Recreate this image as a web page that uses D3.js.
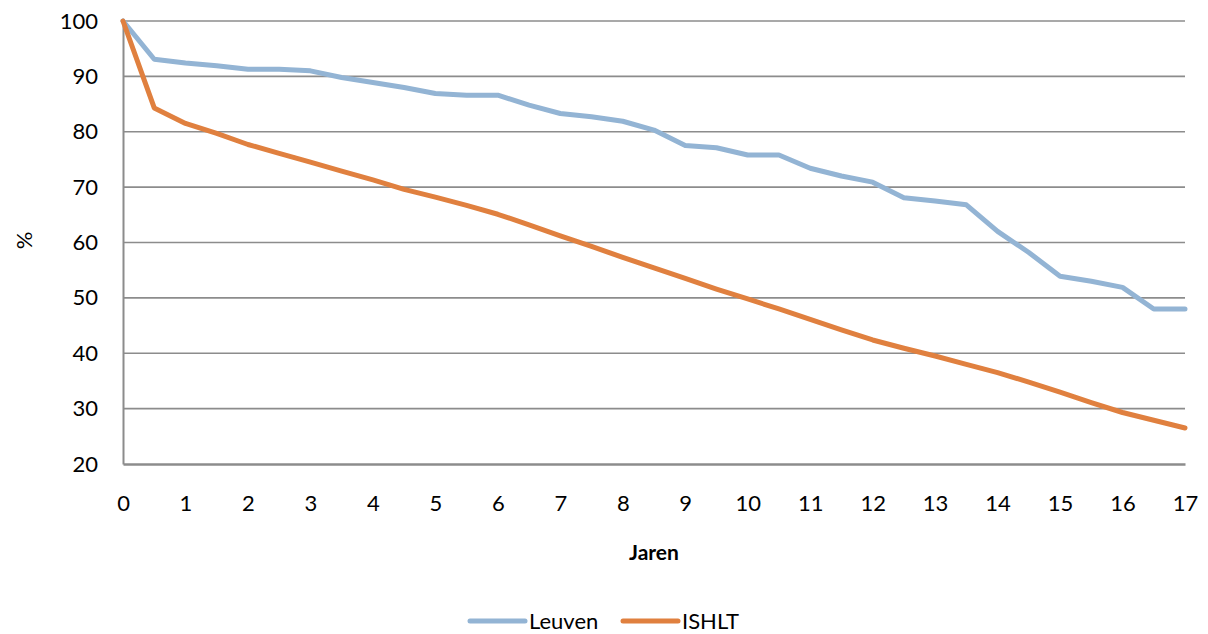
<!DOCTYPE html>
<html>
<head>
<meta charset="utf-8">
<script src="https://cdn.jsdelivr.net/npm/d3@7"></script>
<style>
  html, body { margin: 0; padding: 0; background: #fff; }
  svg text { font-family: "Lato", "Open Sans", sans-serif; fill: #000; }
</style>
</head>
<body>
<svg id="chart" width="1208" height="634"></svg>
<script>
// Survival (%) by years after transplant, half-year steps
const years = [0, 0.5, 1, 1.5, 2, 2.5, 3, 3.5, 4, 4.5, 5, 5.5, 6, 6.5, 7, 7.5, 8, 8.5,
  9, 9.5, 10, 10.5, 11, 11.5, 12, 12.5, 13, 13.5, 14, 14.5, 15, 15.5, 16, 16.5, 17];
const leuven = [100, 93.1, 92.4, 91.9, 91.3, 91.3, 91.0, 89.8, 88.9, 88.0, 86.9, 86.6, 86.6,
  84.8, 83.3, 82.7, 81.9, 80.3, 77.5, 77.1, 75.8, 75.8, 73.4, 72.0, 70.9, 68.1, 67.5, 66.8,
  62.0, 58.2, 53.9, 53.0, 51.9, 48.0, 48.0];
const ishlt = [100, 84.3, 81.5, 79.7, 77.7, 76.1, 74.5, 72.9, 71.3, 69.6, 68.2, 66.7, 65.1,
  63.2, 61.2, 59.3, 57.3, 55.4, 53.5, 51.6, 49.8, 48.0, 46.1, 44.2, 42.4, 40.9, 39.5, 38.0,
  36.5, 34.8, 33.0, 31.1, 29.3, 27.9, 26.5];
const xTicks = d3.range(0, 18);
const yTicks = [20, 30, 40, 50, 60, 70, 80, 90, 100];
const seriesNames = ["Leuven", "ISHLT"];
const seriesColors = ["#93b4d4", "#e0803f"];

const svg = d3.select("#chart");
const plotLeft = 123, plotRight = 1185, plotTop = 21, plotBottom = 464;

const x = d3.scaleLinear().domain([0, 17]).range([plotLeft, plotRight]);
const y = d3.scaleLinear().domain([20, 100]).range([plotBottom, plotTop]);

// horizontal gridlines
svg.append("g")
  .selectAll("line")
  .data(yTicks.filter(v => v > 20))
  .join("line")
  .attr("x1", plotLeft).attr("x2", plotRight)
  .attr("y1", d => y(d)).attr("y2", d => y(d))
  .attr("stroke", "#8c8c8c").attr("stroke-width", 1.6);

// y axis
const yAxis = svg.append("g")
  .attr("transform", `translate(${plotLeft},0)`)
  .call(d3.axisLeft(y).tickValues(yTicks).tickSize(0).tickPadding(25));
yAxis.select(".domain").attr("stroke", "#8c8c8c").attr("stroke-width", 2);
yAxis.selectAll("text").style("font-size", "22px").attr("fill", "#000");

// x axis
const xAxis = svg.append("g")
  .attr("transform", `translate(0,${plotBottom})`)
  .call(d3.axisBottom(x).tickValues(xTicks).tickSize(0).tickPadding(31));
xAxis.select(".domain").attr("stroke", "#8c8c8c").attr("stroke-width", 2.5);
xAxis.selectAll("text").style("font-size", "22px").attr("fill", "#000");

// axis titles
svg.append("text")
  .attr("x", (plotLeft + plotRight) / 2).attr("y", 560)
  .attr("text-anchor", "middle")
  .style("font-size", "21px").style("font-weight", "bold")
  .text("Jaren");

svg.append("text")
  .attr("transform", `translate(32,${y(60) - 2}) rotate(-90)`)
  .attr("text-anchor", "middle")
  .style("font-size", "22px")
  .text("%");

// lines
const line = d3.line()
  .x((d, i) => x(years[i]))
  .y(d => y(d));

[leuven, ishlt].forEach((vals, k) => {
  svg.append("path")
    .datum(vals)
    .attr("d", line)
    .attr("fill", "none")
    .attr("stroke", seriesColors[k])
    .attr("stroke-width", 5)
    .attr("stroke-linejoin", "round")
    .attr("stroke-linecap", "round");
});

// legend
const legendX = [470, 623];
const legend = svg.append("g");
seriesNames.forEach((name, k) => {
  legend.append("line")
    .attr("x1", legendX[k]).attr("x2", legendX[k] + 55)
    .attr("y1", 621).attr("y2", 621)
    .attr("stroke", seriesColors[k]).attr("stroke-width", 5)
    .attr("stroke-linecap", "round");
  legend.append("text")
    .attr("x", legendX[k] + 59).attr("y", 629)
    .style("font-size", "22px")
    .text(name);
});
</script>
</body>
</html>
